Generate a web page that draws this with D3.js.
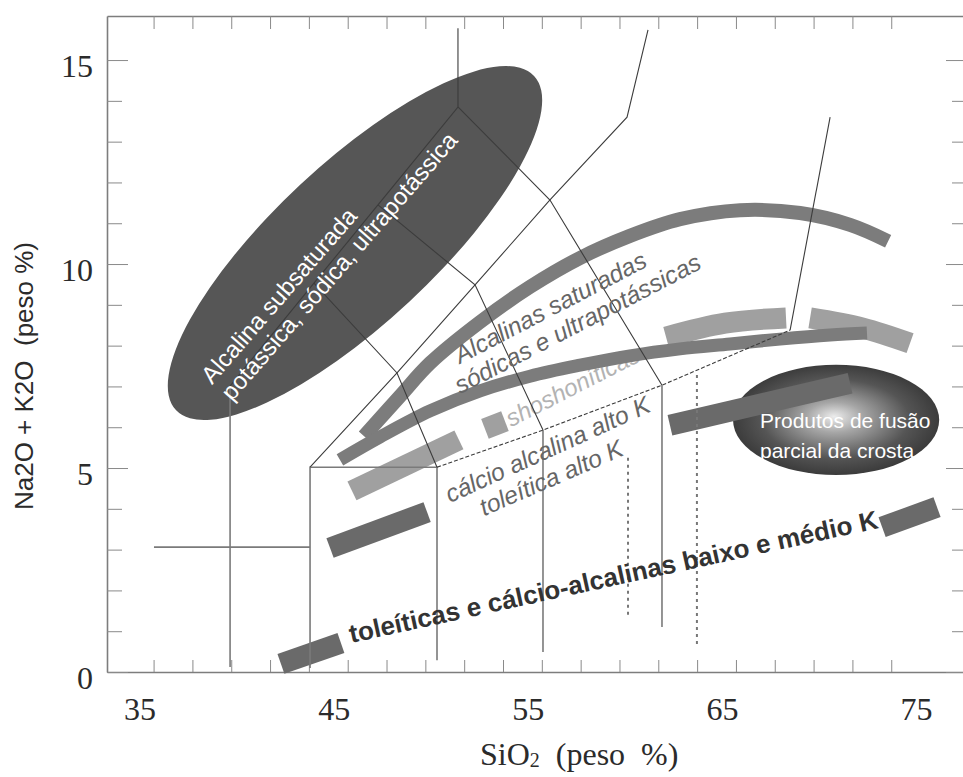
<!DOCTYPE html>
<html>
<head>
<meta charset="utf-8">
<script src="https://cdn.jsdelivr.net/npm/d3@7"></script>
<style>
  html, body { margin: 0; padding: 0; background: #fff; }
  svg { display: block; }
</style>
</head>
<body>
<svg id="chart" width="963" height="777"></svg>
<script>
// ---- axes ----
const xDomain = [32.6, 76.8];
const yDomain = [0, 16.08];
const xTickValues = d3.range(35, 74, 2);
const xTickLabels = [35, 45, 55, 65, 75];
const yTickValues = d3.range(0, 16, 1);
const yTickLabels = [0, 5, 10, 15];

// ---- TAS field boundaries (SiO2, Na2O+K2O) ----
const boundaryThin = [
  [[38.94, 7.01], [43.26, 9.53], [46.56, 11.45], [50.68, 13.85], [50.68, 15.78]],
  [[43.06, 5.02], [47.54, 7.33], [51.56, 9.49], [55.42, 11.57], [59.39, 13.60], [60.47, 15.74]],
  [[43.26, 9.53], [47.54, 7.33], [49.60, 5.02]],
  [[46.56, 11.45], [51.56, 9.49], [55.06, 5.93]],
  [[50.68, 13.85], [55.42, 11.57], [61.19, 7.03]],
  [[67.79, 8.38], [69.85, 13.60]]
];
const boundaryGray = [
  [[38.94, 0.12], [38.94, 7.01]],
  [[35.02, 3.06], [43.06, 3.06]],
  [[43.06, 0.10], [43.06, 5.02], [49.60, 5.02], [49.60, 0.29]],
  [[55.06, 0.49], [55.06, 5.93]],
  [[61.19, 1.10], [61.19, 7.03]]
];
const boundaryDashed = [[49.60, 5.02], [55.06, 5.93], [61.19, 7.03], [67.79, 8.38]];
const boundaryDotted = [
  [[59.44, 5.25], [59.44, 1.40]],
  [[62.99, 7.28], [62.99, 0.66]]
];

// ---- magmatic series trends ----
const alkalineSaturatedUpper = [
  [45.84, 5.78], [47.69, 6.76], [49.24, 7.57], [51.82, 8.58], [54.39, 9.44], [56.97, 10.15],
  [59.54, 10.69], [62.12, 11.10], [65.21, 11.32], [68.30, 11.25], [70.88, 10.96], [72.84, 10.56]
];
const alkalineSaturatedLower = [
  [44.60, 5.20], [46.66, 5.76], [49.24, 6.40], [51.82, 6.89], [54.39, 7.25], [56.97, 7.52],
  [59.54, 7.75], [62.12, 7.92], [64.70, 8.04], [67.27, 8.16], [69.85, 8.26], [71.75, 8.31]
];
const highKSegments = [
  [[45.22, 4.44], [50.73, 5.69]],
  [[52.07, 5.96], [53.10, 6.15]],
  [[61.40, 8.21], [64.44, 8.55], [67.58, 8.68]],
  [[68.82, 8.68], [71.54, 8.43], [73.97, 8.06]]
];
const lowMediumKSegments = [
  [[44.09, 3.04], [49.09, 3.92]],
  [[41.56, 0.20], [44.65, 0.71]],
  [[61.60, 6.05], [70.88, 7.08]],
  [[72.53, 3.55], [75.36, 4.04]]
];

// ---- fields ----
const undersaturatedAxis = [[36.15, 6.42], [54.60, 14.61]];
const crustMeltCenter = [70.16, 6.18];
const crustMeltRadii = [5.31, 1.35];

// ---- annotations: text, anchor (SiO2, Na2O+K2O), rotation ----
const labelsField = [
  ["Alcalina subsaturada", [38.01, 7.03], -49],
  ["potássica, sódica, ultrapotássica", [39.04, 6.62], -49]
];
const labelsSeries = [
  ["Alcalinas saturadas", [50.79, 7.55], -27.5],
  ["sódicas e ultrapotássicas", [50.79, 6.81], -27.5],
  ["cálcio alcalina alto K", [50.27, 4.14], -24.5],
  ["toleítica alto K", [52.02, 3.82], -23.5]
];
const labelShoshonitic = ["shoshoníticas", [53.41, 6.00], -27];
const labelLowK = ["toleíticas e cálcio-alcalinas baixo e médio K", [45.18, 0.71], -12.3];
const labelsCrust = [
  ["Produtos de fusão", [66.24, 5.98]],
  ["parcial da crosta", [66.24, 5.25]]
];

const SANS = "'Liberation Sans', Arial, Helvetica, sans-serif";
const SERIF = "'Liberation Serif', 'Times New Roman', serif";

const svg = d3.select("#chart");
const x = d3.scaleLinear().domain(xDomain).range([107, 965]);
const y = d3.scaleLinear().domain(yDomain).range([672, 16]);
const line = d3.line().x(d => x(d[0])).y(d => y(d[1]));
const smooth = d3.line().x(d => x(d[0])).y(d => y(d[1])).curve(d3.curveCatmullRom.alpha(0.5));

const defs = svg.append("defs");
const grad = defs.append("radialGradient").attr("id", "meltShade")
  .attr("cx", "50%").attr("cy", "50%").attr("r", "55%").attr("fx", "49%").attr("fy", "47%");
grad.append("stop").attr("offset", "0%").attr("stop-color", "#ececec");
grad.append("stop").attr("offset", "25%").attr("stop-color", "#a6a6a6");
grad.append("stop").attr("offset", "65%").attr("stop-color", "#555555");
grad.append("stop").attr("offset", "100%").attr("stop-color", "#333333");

// ---- frame and ticks ----
function styleAxis(g) {
  g.select(".domain").attr("stroke", "#7d7d7d").attr("stroke-width", 1.6);
  g.selectAll(".tick line").attr("stroke", "#8a8a8a").attr("stroke-width", 1);
}

const gBottom = svg.append("g").attr("transform", "translate(0,672)")
  .call(d3.axisBottom(x).tickValues(xTickValues).tickSizeInner(-12).tickSizeOuter(0).tickFormat(""));
styleAxis(gBottom);

// labelled SiO2 values, set flush right against their positions
const gBottomLabels = svg.append("g").attr("transform", "translate(0,672)")
  .call(d3.axisBottom(x).tickValues(xTickLabels).tickSize(0).tickFormat(d3.format("d")));
gBottomLabels.select(".domain").remove();
gBottomLabels.selectAll(".tick text")
  .attr("x", 2).attr("y", 48).attr("dy", null).attr("text-anchor", "end")
  .attr("fill", "#2b2b2b").style("font-family", SERIF).style("font-size", "32px");

const gTop = svg.append("g").attr("transform", "translate(0,16)")
  .call(d3.axisTop(x).tickValues(xTickValues).tickSizeInner(-13).tickSizeOuter(0).tickFormat(""));
styleAxis(gTop);

const gLeft = svg.append("g").attr("transform", "translate(107,0)")
  .call(d3.axisLeft(y).tickValues(yTickValues).tickSizeInner(-15).tickSizeOuter(0)
    .tickFormat(d => yTickLabels.includes(d) ? d : ""));
styleAxis(gLeft);
gLeft.selectAll(".tick line").attr("x2", d => yTickLabels.includes(d) ? 21 : 15);
gLeft.selectAll(".tick text")
  .attr("x", -14).attr("dy", null).attr("y", 16)
  .attr("fill", "#2b2b2b").style("font-family", SERIF).style("font-size", "32px");

const gRight = svg.append("g").attr("transform", "translate(965,0)")
  .call(d3.axisRight(y).tickValues(yTickValues).tickSizeInner(-13).tickSizeOuter(0).tickFormat(""));
styleAxis(gRight);
gRight.selectAll(".tick line").attr("x2", d => yTickLabels.includes(d) ? -19 : -13);

// ---- axis titles ----
const xTitle = svg.append("text").attr("x", 480).attr("y", 765)
  .attr("fill", "#2b2b2b").style("font-family", SERIF).style("font-size", "32px")
  .style("white-space", "pre");
xTitle.append("tspan").text("SiO");
xTitle.append("tspan").text("2").style("font-size", "20px").attr("dy", 2);
xTitle.append("tspan").text("  (peso  %)").attr("dy", -2);

svg.append("text")
  .attr("transform", "translate(33,376) rotate(-90)")
  .attr("text-anchor", "middle")
  .attr("fill", "#2b2b2b").style("font-family", SANS).style("font-size", "26px")
  .style("white-space", "pre")
  .text("Na2O + K2O  (peso %)");

// ---- undersaturated alkaline field ----
(function () {
  const p0 = [x(undersaturatedAxis[0][0]), y(undersaturatedAxis[0][1])];
  const p1 = [x(undersaturatedAxis[1][0]), y(undersaturatedAxis[1][1])];
  const cx = (p0[0] + p1[0]) / 2, cy = (p0[1] + p1[1]) / 2;
  const a = Math.hypot(p1[0] - p0[0], p1[1] - p0[1]) / 2;
  const ang = Math.atan2(p1[1] - p0[1], p1[0] - p0[0]) * 180 / Math.PI;
  svg.append("ellipse")
    .attr("transform", `translate(${cx},${cy}) rotate(${ang})`)
    .attr("rx", a).attr("ry", 80).attr("fill", "#565656");
})();

// ---- crustal melt field ----
svg.append("ellipse")
  .attr("cx", x(crustMeltCenter[0])).attr("cy", y(crustMeltCenter[1]))
  .attr("rx", x(crustMeltCenter[0] + crustMeltRadii[0]) - x(crustMeltCenter[0]))
  .attr("ry", y(crustMeltCenter[1]) - y(crustMeltCenter[1] + crustMeltRadii[1]))
  .attr("fill", "url(#meltShade)");

// shoshonitic label sits beneath the trend bands
svg.append("text")
  .attr("transform", `translate(${x(labelShoshonitic[1][0])},${y(labelShoshonitic[1][1])}) rotate(${labelShoshonitic[2]})`)
  .attr("fill", "#b3b3b3").attr("font-style", "italic")
  .style("font-family", SANS).style("font-size", "24px")
  .text(labelShoshonitic[0]);

// ---- trend bands ----
svg.append("g").selectAll("path").data(highKSegments).join("path")
  .attr("d", d => (d.length > 2 ? smooth : line)(d))
  .attr("fill", "none").attr("stroke", "#a0a0a0").attr("stroke-width", 21).attr("stroke-linecap", "butt");

svg.append("g").selectAll("path").data([alkalineSaturatedUpper, alkalineSaturatedLower]).join("path")
  .attr("d", smooth)
  .attr("fill", "none").attr("stroke", "#7c7c7c").attr("stroke-width", (d, i) => i === 0 ? 14 : 13)
  .attr("stroke-linecap", "butt");

svg.append("g").selectAll("path").data(lowMediumKSegments).join("path")
  .attr("d", line)
  .attr("fill", "none").attr("stroke", "#6a6a6a").attr("stroke-width", 21).attr("stroke-linecap", "butt");

// ---- field boundary lines ----
svg.append("g").selectAll("path").data(boundaryGray).join("path")
  .attr("d", line).attr("fill", "none").attr("stroke", "#7a7a7a").attr("stroke-width", 1.6);
svg.append("g").selectAll("path").data(boundaryThin).join("path")
  .attr("d", line).attr("fill", "none").attr("stroke", "#3c3c3c").attr("stroke-width", 1.1);
svg.append("path").attr("d", line(boundaryDashed))
  .attr("fill", "none").attr("stroke", "#3c3c3c").attr("stroke-width", 1.1).attr("stroke-dasharray", "4,2");
svg.append("g").selectAll("path").data(boundaryDotted).join("path")
  .attr("d", line).attr("fill", "none").attr("stroke", "#777").attr("stroke-width", 2).attr("stroke-dasharray", "3,4");

// ---- labels ----
function rotatedLabel(item, fill, size, extra) {
  const t = svg.append("text")
    .attr("transform", `translate(${x(item[1][0])},${y(item[1][1])}) rotate(${item[2]})`)
    .attr("fill", fill).style("font-family", SANS).style("font-size", size + "px")
    .text(item[0]);
  if (extra) extra(t);
  return t;
}
labelsField.forEach(l => rotatedLabel(l, "#ffffff", 24));
labelsSeries.forEach(l => rotatedLabel(l, "#666666", 24.5, t => t.attr("font-style", "italic")));
rotatedLabel(labelLowK, "#333333", 26, t => t.attr("font-weight", "bold"));

svg.append("g").selectAll("text").data(labelsCrust).join("text")
  .attr("x", d => x(d[1][0])).attr("y", d => y(d[1][1]))
  .attr("fill", "#ffffff").style("font-family", SANS).style("font-size", "21px")
  .text(d => d[0]);
</script>
</body>
</html>
